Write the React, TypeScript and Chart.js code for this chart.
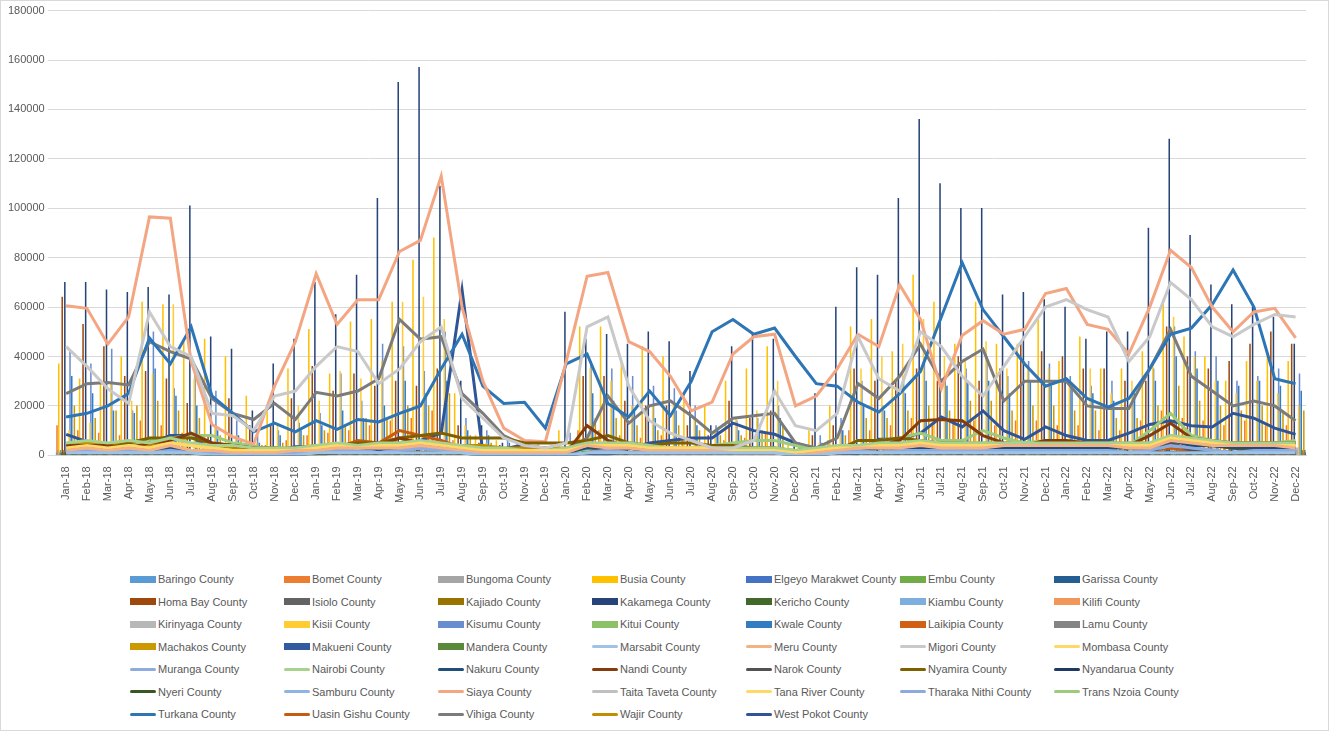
import React, { useEffect, useRef } from 'react';
import Chart from 'chart.js/auto';

// months Jan-18 .. Dec-22
const monthNames = ['Jan', 'Feb', 'Mar', 'Apr', 'May', 'Jun', 'Jul', 'Aug', 'Sep', 'Oct', 'Nov', 'Dec'];
const years = ['18', '19', '20', '21', '22'];
const labels = years.flatMap((y) => monthNames.map((m) => `${m}-${y}`));

// values in thousands of units
const kakamega = [70,70,67,66,68,65,101,48,43,18,37,47, 70,57,73,104,151,157,109,30,12,5,4,3, 58,47,49,45,50,46,34,12,44,49,47,5, 25,60,76,73,104,136,110,100,100,65,66,63, 60,47,50,50,92,128,89,69,61,60,56,45];
const busia = [37,31,30,40,62,61,47,47,40,24,20,35, 51,33,54,55,62,79,88,25,8,6,5,6, 10,52,52,38,44,40,25,20,30,35,44,5, 10,20,52,55,42,73,62,45,62,45,45,55, 38,48,35,35,42,63,48,40,30,38,40,38];
const kisii = [10,13,29,22,33,61,31,12,8,5,12,20, 22,34,31,38,62,64,55,12,5,3,3,3, 5,35,30,20,20,20,15,10,15,18,30,3, 5,12,35,40,45,55,40,38,46,35,35,35, 30,35,25,30,38,56,40,30,25,30,25,20];
const homaBay = [64,53,44,32,34,31,21,8,23,12,12,23, 36,26,33,28,30,28,35,12,5,4,3,3, 3,32,32,22,20,20,12,8,22,15,18,2, 8,12,35,30,30,35,30,40,30,35,45,42, 40,35,35,30,30,52,40,35,38,45,50,45];
const kisumu = [42,37,43,18,50,27,34,26,14,8,10,13, 17,33,22,45,44,34,50,15,10,7,5,3, 9,38,35,32,28,27,20,12,14,15,20,4, 8,15,30,20,30,37,32,35,40,32,38,37, 32,28,30,25,35,52,42,40,30,32,35,33];
const kwale = [32,25,18,17,35,24,20,10,8,5,8,10, 12,18,15,20,30,25,30,10,8,5,4,3, 4,25,22,18,15,18,12,10,10,12,15,3, 5,10,20,18,25,30,28,30,30,25,30,28, 28,25,22,25,30,40,35,30,28,30,28,26];
const machakos = [20,15,18,20,22,18,15,8,6,4,5,8, 10,12,15,15,20,20,25,8,5,3,3,2, 3,15,15,12,10,12,10,8,8,10,12,2, 4,8,15,15,18,20,18,22,22,18,20,20, 18,18,15,15,20,28,22,20,18,20,18,18];
const bomet = [12,10,9,8,14,12,9,5,4,3,4,6, 8,9,10,12,14,15,18,6,4,3,2,2, 2,10,10,8,7,8,6,5,6,7,9,2, 3,6,10,10,12,15,12,14,14,12,14,14, 12,12,10,10,14,18,15,14,12,14,12,12];
const siaya = [60.5,59.5,45,56,96.5,96,38,12.5,7.5,4.5,28,46, 73.5,53,63,63,82.5,87,113,60,30,11,6,5.5, 38,72.5,74,46,42,32,18,21.5,41,48,49,20, 24,35,49,44,69,55,27,48.5,54.5,49,51,65.5, 67.5,53,51,41,60,83,76,60,50,58,59.5,47.5];
const migori = [44,36,27,21,58,44,40,17,16,10,24,26, 36,44,42,29,35,46,52,23,15,7,4,3, 5,52,56,28,14,9,6,3,3,6,26,12, 10,17,48,31,26,50,44,32,24,36,48,60, 63,59,56,38,48,70,63,52,48,53,57,56];
const vihiga = [25,29,29.5,28.5,46,42,39,23,17,14.5,21,14.5, 25.5,24,26,31,55,47,48,25,17,8,4,3, 2,7,24,13,20,22,16,9,15,16,17,5, 3,7,29,23,32,45,30,38,43,22,30,30, 30,20,19,19,35,51,32,26,20,22,20,14];
const turkana = [15.5,17,20,25,47.5,37,52,24,17,9.5,13,9.5, 14,10.5,14.5,13.5,17,20,35,49,28,21,21.5,11, 37,41,21,15.5,26,16,30,50,55,49,51.5,40, 29,28,21.5,17.5,25,34,56,78,59,48,37,28, 31,23,19.5,23,35,49,51.5,61,75,60,31,29];
const westPokot = [8.5,5.5,4,3,5,8,8,2,0.5,0,2,3.5, 3.5,1.5,3,1.5,4,6,9,67,1,2.5,4.5,1.5, 0.5,0.5,0,3,5,6,7,7,13,10,8.5,5, 2.5,1,0.5,6.5,6.5,9,15.5,11.5,18,10,6.5,11.5, 8,6,6,9,12.5,14,12,11.5,17,15,11,8.5];
const nandi = [4,4,4,3,5,6,9,5,4,3,3,2, 3,3,4,4,7,5,4,3,2,1,1,1, 1,12,6,3,2,2,2,2,2,2,2,1, 1,1,2,4,6,14,14.5,14,8,5,4,6, 6,5,5,4,8,13,7,6,5,5,5,5];
const nyamira = [3,3,3,5,7,7,7,5,4,3,2,2, 3,4,5,5,7,8,9,7,7,7,5,5, 5,6,8,5,4,5,5,4,4,3,3,1, 1,2,6,6,7,6,5,5,4,4,4,6, 5,5,5,4,4,8,5,4,3,2,4,5];
const transNzoia = [4,3,3,3,6,7,8,8,5,4,1,1, 2,2,3,4,7,3,2,1,1,1,1,1, 1,2,6,3,2,2,3,4,5,6,6,4, 2,2,6,6,7,9,6,6,10,7,5,6, 5,5,5,4,10,17,8,6,4,3,5,6];
const uasinGishu = [2,3,4,3,3,3,2,1,1,1,3,2, 2,3,6,5,10,8,6,3,2,2,2,1, 1,2,2,1,1,1,2,2,1,1,1,0, 0,1,3,4,4,3,2,5,2,2,2,3, 3,2,2,1,2,3,2,2,1,1,1,1];

// small series, one digit per month (thousands)
const baringo = '121211110011 121122110000 012111111110 011112221222 212112221211';
const bungoma = '232324221112 233334321111 143322221110 123334333444 444336544443';
const elgeyo = '111212110001 111122210000 012111111110 012122222222 222123322222';
const embu = '222233321111 222234311111 123221111110 112233332222 222235432222';
const garissa = '111111100000 111111110000 011111111110 011112221111 111112221111';
const isiolo = '121212110001 122123210000 012111111110 012123221222 222124321222';
const kajiado = '233334322211 333445432222 234332222221 223344443333 333346543333';
const kericho = '111111100000 011111110000 011111111110 011111111111 111111111111';
const kiambu = '232323221112 223334321111 133322221110 122333333333 333336443333';
const kilifi = '121212110001 122123210000 012111111110 012122222222 222124321222';
const kirinyaga = '232324221112 223334321111 133322221110 122333333333 333336443333';
const kitui = '233334432211 233344321111 133322222221 122334444333 333346543333';
const laikipia = '121212110001 122123210000 012111111110 012122222222 222124321222';
const lamu = '111111100000 111111110000 011111111110 011111111111 111111111111';
const makueni = '121212110001 122123210000 012111111110 012122222222 222124321222';
const mandera = '111111100000 011111110000 011111111110 011111111111 111111111111';
const marsabit = '111111100000 111111110000 011111111110 011111111111 111111111111';
const meru = '232324221112 233334321111 143322221110 123334333444 444336544443';
const mombasa = '343435432222 343445432222 244433332221 233445444444 444447654444';
const muranga = '121212110001 122123210000 012111111110 012122222222 222124321222';
const nairobi = '565657544333 454556543322 355543333332 344556555555 555558765555';
const nakuru = '232323221112 223334321111 133322221110 122333333333 333336443333';
const narok = '111111100000 111111110000 011111111110 011111112221 111115211111';
const nyeri = '111111100000 011111110000 011111111110 011111111111 111111111111';
const samburu = '121212110001 122123210000 012111111110 012122222222 222124321222';
const taitaTaveta = '232324221112 233334321111 143322221110 123334333444 444336544443';
const tanaRiver = '343435432222 343445432222 244433332221 233445444444 444457654444';
const tharakaNithi = '121212110001 122123210000 012111111110 012122222222 222124321222';
const wajir = '454545433333 444555444333 345543333332 334455555555 555557665555';
const nyandarua = '111111100000 111111110000 011111111110 011111111111 111111111111';

const digits = (s: string) => s.replace(/ /g, '').split('').map(Number);
const toUnits = (a: number[]) => a.map((v) => v * 1000);

type Series = { name: string; color: string; data: number[]; kind: 'bar' | 'line' };

const series: Series[] = [
  { name: 'Baringo County', color: '#5B9BD5', data: digits(baringo), kind: 'bar' },
  { name: 'Bomet County', color: '#ED7D31', data: bomet, kind: 'bar' },
  { name: 'Bungoma County', color: '#A5A5A5', data: digits(bungoma), kind: 'bar' },
  { name: 'Busia County', color: '#FFC000', data: busia, kind: 'bar' },
  { name: 'Elgeyo Marakwet County', color: '#4472C4', data: digits(elgeyo), kind: 'bar' },
  { name: 'Embu County', color: '#70AD47', data: digits(embu), kind: 'bar' },
  { name: 'Garissa County', color: '#255E91', data: digits(garissa), kind: 'bar' },
  { name: 'Homa Bay County', color: '#9E480E', data: homaBay, kind: 'bar' },
  { name: 'Isiolo County', color: '#636363', data: digits(isiolo), kind: 'bar' },
  { name: 'Kajiado County', color: '#997300', data: digits(kajiado), kind: 'bar' },
  { name: 'Kakamega County', color: '#264478', data: kakamega, kind: 'bar' },
  { name: 'Kericho County', color: '#43682B', data: digits(kericho), kind: 'bar' },
  { name: 'Kiambu County', color: '#7CAFDD', data: digits(kiambu), kind: 'bar' },
  { name: 'Kilifi County', color: '#F1975A', data: digits(kilifi), kind: 'bar' },
  { name: 'Kirinyaga County', color: '#B7B7B7', data: digits(kirinyaga), kind: 'bar' },
  { name: 'Kisii County', color: '#FFCD33', data: kisii, kind: 'bar' },
  { name: 'Kisumu County', color: '#698ED0', data: kisumu, kind: 'bar' },
  { name: 'Kitui County', color: '#8CC168', data: digits(kitui), kind: 'bar' },
  { name: 'Kwale County', color: '#327DC2', data: kwale, kind: 'bar' },
  { name: 'Laikipia County', color: '#D26012', data: digits(laikipia), kind: 'bar' },
  { name: 'Lamu County', color: '#848484', data: digits(lamu), kind: 'bar' },
  { name: 'Machakos County', color: '#CC9A00', data: machakos, kind: 'bar' },
  { name: 'Makueni County', color: '#335AA1', data: digits(makueni), kind: 'bar' },
  { name: 'Mandera County', color: '#5A8A39', data: digits(mandera), kind: 'bar' },
  { name: 'Marsabit County', color: '#9DC3E6', data: digits(marsabit), kind: 'line' },
  { name: 'Meru County', color: '#F4B183', data: digits(meru), kind: 'line' },
  { name: 'Migori County', color: '#C9C9C9', data: migori, kind: 'line' },
  { name: 'Mombasa County', color: '#FFD966', data: digits(mombasa), kind: 'line' },
  { name: 'Muranga County', color: '#8FAADC', data: digits(muranga), kind: 'line' },
  { name: 'Nairobi County', color: '#A9D18E', data: digits(nairobi), kind: 'line' },
  { name: 'Nakuru County', color: '#1F4E79', data: digits(nakuru), kind: 'line' },
  { name: 'Nandi County', color: '#843C0C', data: nandi, kind: 'line' },
  { name: 'Narok County', color: '#525252', data: digits(narok), kind: 'line' },
  { name: 'Nyamira County', color: '#7F6000', data: nyamira, kind: 'line' },
  { name: 'Nyandarua County', color: '#203864', data: digits(nyandarua), kind: 'line' },
  { name: 'Nyeri County', color: '#385723', data: digits(nyeri), kind: 'line' },
  { name: 'Samburu County', color: '#8EB4E3', data: digits(samburu), kind: 'line' },
  { name: 'Siaya County', color: '#F4A582', data: siaya, kind: 'line' },
  { name: 'Taita Taveta County', color: '#C0C0C0', data: digits(taitaTaveta), kind: 'line' },
  { name: 'Tana River County', color: '#FFD966', data: digits(tanaRiver), kind: 'line' },
  { name: 'Tharaka Nithi County', color: '#8EA9DB', data: digits(tharakaNithi), kind: 'line' },
  { name: 'Trans Nzoia County', color: '#9DCB7E', data: transNzoia, kind: 'line' },
  { name: 'Turkana County', color: '#2E75B6', data: turkana, kind: 'line' },
  { name: 'Uasin Gishu County', color: '#C55A11', data: uasinGishu, kind: 'line' },
  { name: 'Vihiga County', color: '#7B7B7B', data: vihiga, kind: 'line' },
  { name: 'Wajir County', color: '#BF8F00', data: digits(wajir), kind: 'line' },
  { name: 'West Pokot County', color: '#2F5597', data: westPokot, kind: 'line' },
];

const App: React.FC = () => {
  const canvasRef = useRef<HTMLCanvasElement>(null);
  const chartRef = useRef<Chart | null>(null);

  useEffect(() => {
    document.body.style.margin = '0';
    if (!canvasRef.current) return;
    const ctx = canvasRef.current.getContext('2d');
    if (!ctx) return;
    chartRef.current = new Chart(ctx, {
      type: 'bar',
      data: {
        labels,
        datasets: series.map((s) =>
          s.kind === 'bar'
            ? {
                type: 'bar' as const,
                label: s.name,
                data: toUnits(s.data),
                backgroundColor: s.color,
                categoryPercentage: 1,
                barPercentage: 1,
                order: 2,
              }
            : {
                type: 'line' as const,
                label: s.name,
                data: toUnits(s.data),
                borderColor: s.color,
                backgroundColor: s.color,
                borderWidth: 3,
                pointRadius: 0,
                tension: 0,
                order: 1,
              }
        ) as any,
      },
      options: {
        animation: false,
        responsive: false,
        maintainAspectRatio: false,
        layout: { padding: { top: 2, right: 22, left: 4 } },
        plugins: { legend: { display: false }, tooltip: { enabled: false } },
        scales: {
          x: {
            grid: { display: false },
            border: { color: '#d9d9d9' },
            ticks: {
              autoSkip: false,
              maxRotation: 90,
              minRotation: 90,
              color: '#595959',
              font: { family: 'Liberation Sans', size: 11 },
            },
          },
          y: {
            min: 0,
            max: 180000,
            border: { display: false },
            grid: { color: '#d9d9d9' },
            ticks: {
              stepSize: 20000,
              color: '#595959',
              font: { family: 'Liberation Sans', size: 11 },
              callback: (v) => String(v),
            },
          },
        },
      },
    });
    return () => {
      chartRef.current?.destroy();
      chartRef.current = null;
    };
  }, []);

  return (
    <div
      style={{
        position: 'relative',
        width: 1329,
        height: 731,
        boxSizing: 'border-box',
        border: '1px solid #d9d9d9',
        background: '#fff',
        fontFamily: 'Liberation Sans, sans-serif',
        overflow: 'hidden',
      }}
    >
      <canvas ref={canvasRef} width={1327} height={505} style={{ position: 'absolute', left: 0, top: 0 }} />
      <div style={{ position: 'absolute', left: 129, top: 569 }}>
        {series.map((s, i) => (
          <div
            key={s.name}
            style={{
              position: 'absolute',
              left: (i % 7) * 154,
              top: Math.floor(i / 7) * 22.5,
              display: 'flex',
              alignItems: 'center',
              whiteSpace: 'nowrap',
              fontSize: 11,
              color: '#595959',
              height: 18,
            }}
          >
            <span
              style={{
                display: 'inline-block',
                width: 26,
                height: s.kind === 'bar' ? 7 : 3,
                borderRadius: s.kind === 'bar' ? 0 : 2,
                background: s.color,
                marginRight: 2,
              }}
            />
            {s.name}
          </div>
        ))}
      </div>
    </div>
  );
};

export default App;
